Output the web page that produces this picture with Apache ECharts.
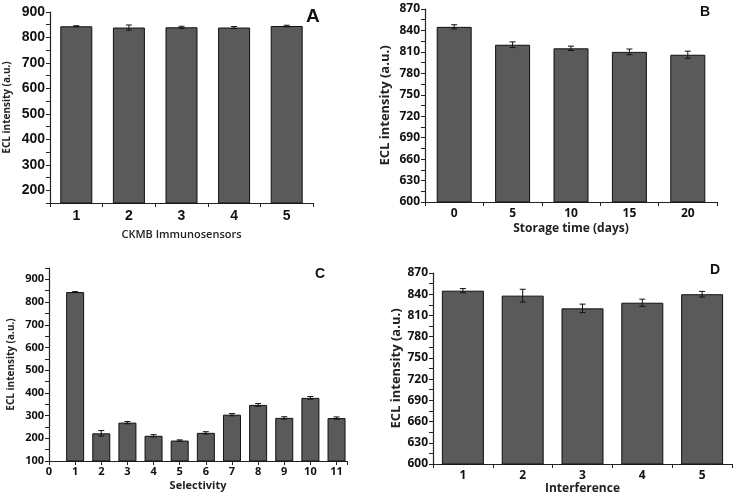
<!DOCTYPE html>
<html>
<head>
<meta charset="utf-8">
<script src="https://cdn.jsdelivr.net/npm/echarts@6/dist/echarts.min.js"></script>
<style>
  html, body { margin: 0; padding: 0; background: #fff; }
  #main { width: 735px; height: 496px; }
</style>
</head>
<body>
<div id="main"></div>
<script>
// panel A - reproducibility
var catsA = ['1', '2', '3', '4', '5'];
var valsA = [844, 839, 840, 839, 845];
var errA = [2, 10, 4, 4, 3];
// panel B - storage stability
var catsB = ['0', '5', '10', '15', '20'];
var valsB = [845, 820, 815, 810, 806];
var errB = [3, 4, 3, 4, 5];
// panel C - selectivity (x is numeric, 0 is empty)
var xC = [1, 2, 3, 4, 5, 6, 7, 8, 9, 10, 11];
var valsC = [844, 222, 269, 211, 190, 224, 304, 347, 290, 378, 289];
var errC = [2, 12, 5, 5, 3, 5, 5, 6, 5, 6, 5];
// panel D - interference
var catsD = ['1', '2', '3', '4', '5'];
var valsD = [845, 838, 820, 828, 840];
var errD = [3, 9, 6, 5, 4];

var arialFont = 'Liberation Sans, Arial, sans-serif';
var sansFont = 'Open Sans, sans-serif';

function every(step) {
  return function (v) { return v % step === 0 ? v : ''; };
}

function errSeries(idx, xs, vals, errs) {
  var data = xs.map(function (x, i) { return [x, vals[i] - errs[i], vals[i] + errs[i]]; });
  return {
    type: 'custom',
    xAxisIndex: idx,
    yAxisIndex: idx,
    z: 5,
    data: data,
    renderItem: function (params, api) {
      var lo = api.coord([api.value(0), api.value(1)]);
      var hi = api.coord([api.value(0), api.value(2)]);
      var w = 3;
      var st = { stroke: '#111', lineWidth: 1 };
      return {
        type: 'group',
        children: [
          { type: 'line', shape: { x1: lo[0], y1: lo[1], x2: hi[0], y2: hi[1] }, style: st },
          { type: 'line', shape: { x1: lo[0] - w, y1: lo[1], x2: lo[0] + w, y2: lo[1] }, style: st },
          { type: 'line', shape: { x1: hi[0] - w, y1: hi[1], x2: hi[0] + w, y2: hi[1] }, style: st }
        ]
      };
    }
  };
}

function barSeries(idx, data, width) {
  return {
    type: 'bar',
    xAxisIndex: idx,
    yAxisIndex: idx,
    data: data,
    barWidth: width,
    itemStyle: { color: '#5a5a5a', borderColor: '#111', borderWidth: 1 }
  };
}

var axisLine = { show: true, lineStyle: { color: '#222', width: 1.2 } };
var axisTick = { show: true, inside: false, length: 4, lineStyle: { color: '#222' } };

function xAx(idx, cats, font, fontSize, name, nameSize, nameWeight, nameGap) {
  return {
    type: 'category',
    gridIndex: idx,
    data: cats,
    axisLine: axisLine,
    axisTick: axisTick,
    axisLabel: { color: '#111', fontFamily: font, fontWeight: 'bold', fontSize: fontSize, margin: 6 },
    name: name,
    nameLocation: 'middle',
    nameGap: nameGap,
    nameTextStyle: { color: '#222', fontFamily: sansFont, fontWeight: nameWeight, fontSize: nameSize },
    splitLine: { show: false }
  };
}

function yAx(idx, min, max, interval, step, font, fontSize, nameSize, nameGap) {
  return {
    type: 'value',
    gridIndex: idx,
    min: min,
    max: max,
    interval: interval,
    axisLine: axisLine,
    axisTick: axisTick,
    axisLabel: { color: '#111', fontFamily: font, fontWeight: 'bold', fontSize: fontSize, margin: 5, formatter: every(step) },
    name: 'ECL intensity (a.u.)',
    nameLocation: 'middle',
    nameGap: nameGap,
    nameTextStyle: { color: '#222', fontFamily: sansFont, fontWeight: 'bold', fontSize: nameSize },
    splitLine: { show: false }
  };
}

var xAxisC = {
  type: 'value',
  gridIndex: 2,
  min: 0,
  max: 11.4,
  interval: 1,
  axisLine: axisLine,
  axisTick: axisTick,
  axisLabel: {
    color: '#111', fontFamily: sansFont, fontWeight: 'bold', fontSize: 11, margin: 5,
    formatter: function (v) { return Number.isInteger(v) ? v : ''; }
  },
  name: 'Selectivity',
  nameLocation: 'middle',
  nameGap: 19,
  nameTextStyle: { color: '#222', fontFamily: sansFont, fontWeight: 'bold', fontSize: 11 },
  splitLine: { show: false }
};

var letterStyle = { fontFamily: arialFont, fontWeight: 'bold', color: '#111' };

var option = {
  animation: false,
  backgroundColor: '#fff',
  title: [
    { text: 'A', left: 301, top: 2, textStyle: Object.assign({ fontSize: 19 }, letterStyle) },
    { text: 'B', left: 695, top: 0, textStyle: Object.assign({ fontSize: 14 }, letterStyle) },
    { text: 'C', left: 310, top: 262, textStyle: Object.assign({ fontSize: 14 }, letterStyle) },
    { text: 'D', left: 705, top: 258, textStyle: Object.assign({ fontSize: 14 }, letterStyle) }
  ],
  grid: [
    { left: 50, top: 12, width: 263, height: 191 },
    { left: 425, top: 9, width: 292, height: 193 },
    { left: 49, top: 268, width: 298, height: 193 },
    { left: 433, top: 273, width: 299, height: 196 }
  ],
  xAxis: [
    xAx(0, catsA, arialFont, 14, 'CKMB Immunosensors', 11, 600, 26),
    xAx(1, catsB, sansFont, 12, 'Storage time (days)', 12, 'bold', 21),
    xAxisC,
    xAx(3, catsD, sansFont, 12, 'Interference', 12, 'bold', 19)
  ],
  yAxis: [
    yAx(0, 150, 900, 50, 100, arialFont, 14, 10, 38),
    yAx(1, 600, 870, 15, 30, sansFont, 12, 13, 33),
    yAx(2, 100, 950, 50, 100, sansFont, 11, 10, 33),
    yAx(3, 600, 870, 15, 30, sansFont, 12, 13, 30)
  ],
  series: [
    barSeries(0, valsA, 32),
    errSeries(0, catsA.map(function (c, i) { return i; }), valsA, errA),
    barSeries(1, valsB, 35),
    errSeries(1, catsB.map(function (c, i) { return i; }), valsB, errB),
    barSeries(2, xC.map(function (x, i) { return [x, valsC[i]]; }), 18),
    errSeries(2, xC, valsC, errC),
    barSeries(3, valsD, 42),
    errSeries(3, catsD.map(function (c, i) { return i; }), valsD, errD)
  ]
};

var chart = echarts.init(document.getElementById('main'));
chart.setOption(option);
</script>
</body>
</html>
